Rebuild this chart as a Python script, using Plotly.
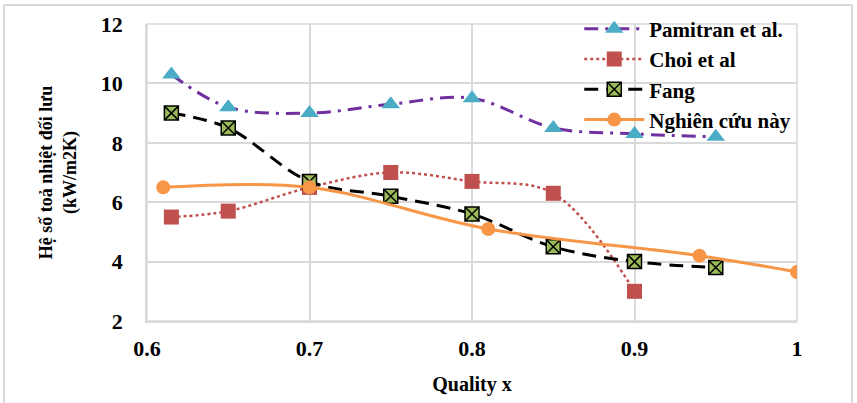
import plotly.graph_objects as go

pam_x = [0.615, 0.65, 0.70, 0.75, 0.80, 0.85, 0.90, 0.95]
pam_y = [10.3, 9.2, 9.0, 9.3, 9.5, 8.5, 8.3, 8.2]

choi_x = [0.615, 0.65, 0.70, 0.75, 0.80, 0.85, 0.90]
choi_y = [5.5, 5.7, 6.5, 7.0, 6.7, 6.3, 3.0]

fang_x = [0.615, 0.65, 0.70, 0.75, 0.80, 0.85, 0.90, 0.95]
fang_y = [9.0, 8.5, 6.7, 6.2, 5.6, 4.5, 4.0, 3.8]

nc_x = [0.61, 0.70, 0.81, 0.94, 1.00]
nc_y = [6.5, 6.5, 5.1, 4.2, 3.65]

names = ["Pamitran et al.", "Choi et al", "Fang", "Nghiên cứu này"]

FONT = "Liberation Serif"

fig = go.Figure()
fig.add_trace(go.Scatter(
    x=pam_x, y=pam_y, name="<b>" + names[0] + "</b>", mode="lines+markers", legendgroup="a",
    line=dict(color="#7030A0", width=3, dash="14px,7px,3px,7px", shape="spline", smoothing=1),
    marker=dict(symbol="triangle-up", size=16, color="#4BACC6")))
fig.add_trace(go.Scatter(
    x=choi_x, y=choi_y, name="<b>" + names[1] + "</b>", mode="lines+markers", legendgroup="b",
    line=dict(color="#C0504D", width=2.5, dash="dot", shape="spline", smoothing=1),
    marker=dict(symbol="square", size=15, color="#C0504D")))
fig.add_trace(go.Scatter(
    x=fang_x, y=fang_y, name="<b>" + names[2] + "</b>", mode="lines+markers", legendgroup="c",
    line=dict(color="#000000", width=3, dash="14px,8px", shape="spline", smoothing=1),
    marker=dict(symbol="square-x", size=14, color="#9BBB59", line=dict(color="#000000", width=1.5))))
fig.add_trace(go.Scatter(
    x=nc_x, y=nc_y, name="<b>" + names[3] + "</b>", mode="lines+markers", legendgroup="d",
    line=dict(color="#F79646", width=3, shape="spline", smoothing=1),
    marker=dict(symbol="circle", size=14, color="#F79646")))

fig.update_layout(
    width=857, height=403,
    margin=dict(l=147, r=60, t=24, b=82, autoexpand=False),
    paper_bgcolor="white", plot_bgcolor="white",
    font=dict(family=FONT, color="black", size=20),
    legend=dict(x=0.665, y=1.052, xanchor="left", yanchor="top",
                bgcolor="rgba(0,0,0,0)", font=dict(family=FONT, size=21, color="black"),
                tracegroupgap=0, itemwidth=60),
    xaxis=dict(range=[0.6, 1.0], dtick=0.1, tick0=0.6, showgrid=True, gridcolor="#D9D9D9", gridwidth=1.5,
               showline=True, linecolor="#D9D9D9", linewidth=1.5, mirror=False, zeroline=False,
               tickfont=dict(family=FONT, size=22, color="black", weight="bold"), ticks="",
               ticklabelstandoff=7,
               title=dict(text="<b>Quality x</b>", font=dict(family=FONT, size=20), standoff=17)),
    yaxis=dict(range=[2, 12], dtick=2, showgrid=True, gridcolor="#D9D9D9", gridwidth=1.5,
               showline=True, linecolor="#D9D9D9", linewidth=1.5, zeroline=False, ticks="",
               tickfont=dict(family=FONT, size=22, color="black", weight="bold"), ticklabelstandoff=18,
               title=dict(text="<b>Hệ số toả nhiệt đối lưu<br>(kW/m2K)</b>", font=dict(family=FONT, size=18), standoff=20)),
    shapes=[
        dict(type="rect", xref="x domain", yref="y domain", x0=0, x1=1, y0=0, y1=1, layer="below",
             line=dict(color="#D9D9D9", width=1.5)),
        dict(type="line", xref="paper", yref="paper", x0=-0.22, x1=1.0846, y0=1.064, y1=1.064,
             line=dict(color="#D9D9D9", width=2)),
        dict(type="line", xref="paper", yref="paper", x0=-0.22, x1=-0.22, y0=-0.3, y1=1.064,
             line=dict(color="#D9D9D9", width=2)),
        dict(type="line", xref="paper", yref="paper", x0=1.0846, x1=1.0846, y0=-0.3, y1=1.064,
             line=dict(color="#D9D9D9", width=2)),
    ],
)

fig.write_html("out.html", config={"displayModeBar": False},
               post_script="document.body.style.margin='0px';")
